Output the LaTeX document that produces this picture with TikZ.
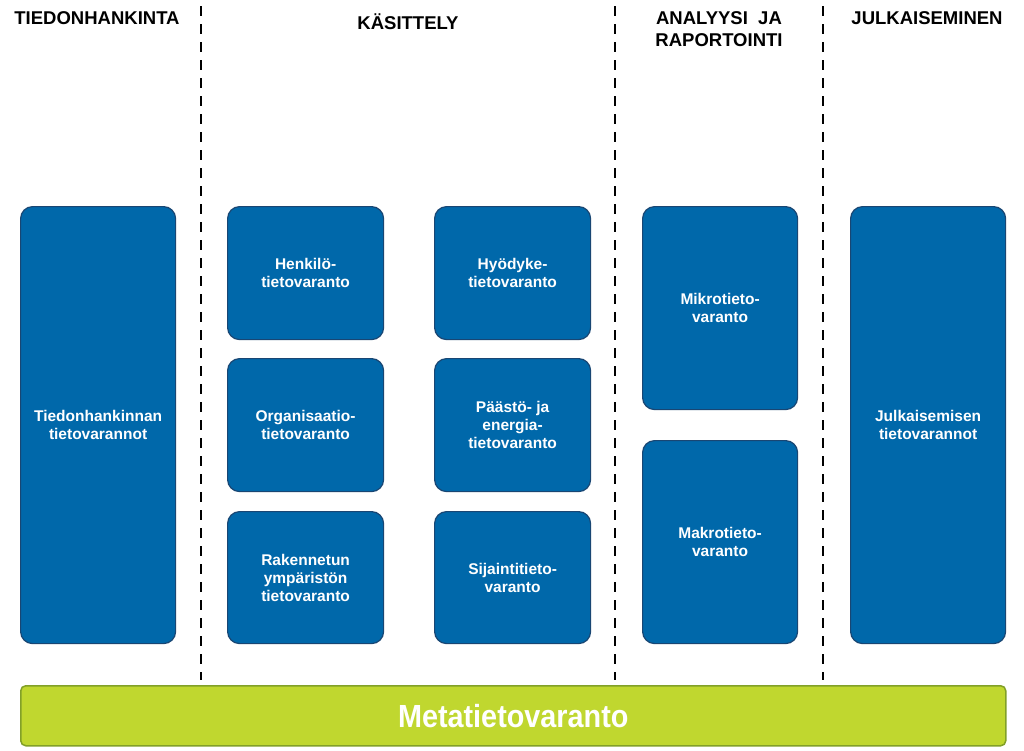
\documentclass[tikz,border=0pt]{standalone}
\usepackage{fontspec}
\setmainfont{Liberation Sans}
\newfontfamily\narrowfont[FakeStretch=0.9]{Liberation Sans}
\begin{document}
\begin{tikzpicture}[x=1pt,y=-1pt,
  bluebox/.style={draw={rgb,255:red,25;green,70;blue,115}, line width=1.2pt, fill={rgb,255:red,0;green,104;blue,170}, rounded corners=12pt, text=white, font=\fontsize{15.5}{18}\selectfont\bfseries, align=center},
  header/.style={font=\fontsize{18.5}{22}\selectfont\bfseries, align=center},
  sep/.style={line width=2.6pt, dash pattern=on 10pt off 8pt}]
\useasboundingbox (0,0) rectangle (1024,750);
\newcommand{\bx}[6]{\node[bluebox, minimum width=#3-#1, minimum height=#4-#2, anchor=north west] (#5) at (#1,#2) {#6};}
\bx{20}{206}{175}{643}{tied}{Tiedonhankinnan\\tietovarannot}
\bx{227}{206}{383}{339}{henk}{Henkilö-\\tietovaranto}
\bx{227}{358}{383}{491}{org}{Organisaatio-\\tietovaranto}
\bx{227}{511}{383}{643}{rak}{Rakennetun\\ympäristön\\tietovaranto}
\bx{434}{206}{590}{339}{hyod}{Hyödyke-\\tietovaranto}
\bx{434}{358}{590}{491}{paas}{Päästö- ja\\energia-\\tietovaranto}
\bx{434}{511}{590}{643}{sij}{Sijaintitieto-\\varanto}
\bx{642}{206}{797}{409}{mikro}{Mikrotieto-\\varanto}
\bx{642}{440}{797}{643}{makro}{Makrotieto-\\varanto}
\bx{850}{206}{1005}{643}{julk}{Julkaisemisen\\tietovarannot}
\node[draw={rgb,255:red,130;green,160;blue,40}, line width=1.5pt, fill={rgb,255:red,192;green,215;blue,47}, rounded corners=5pt, minimum width=985, minimum height=60, anchor=north west, text=white, font=\narrowfont\fontsize{32}{36}\selectfont\bfseries] (meta) at (20,685) {Metatietovaranto};
\coordinate (s1a) at (201,6); \coordinate (s1b) at (201,680);
\coordinate (s2a) at (615,6); \coordinate (s2b) at (615,680);
\coordinate (s3a) at (823,6); \coordinate (s3b) at (823,680);
\draw[sep] (s1a) -- (s1b);
\draw[sep] (s2a) -- (s2b);
\draw[sep] (s3a) -- (s3b);
\node[header] (h1) at (97,18) {TIEDONHANKINTA};
\node[header] (h2) at (408,22) {KÄSITTELY};
\node[header] (h3) at (719,29) {ANALYYSI\ \ JA\\RAPORTOINTI};
\node[header] (h4) at (927,18) {JULKAISEMINEN};
\end{tikzpicture}
\end{document}
